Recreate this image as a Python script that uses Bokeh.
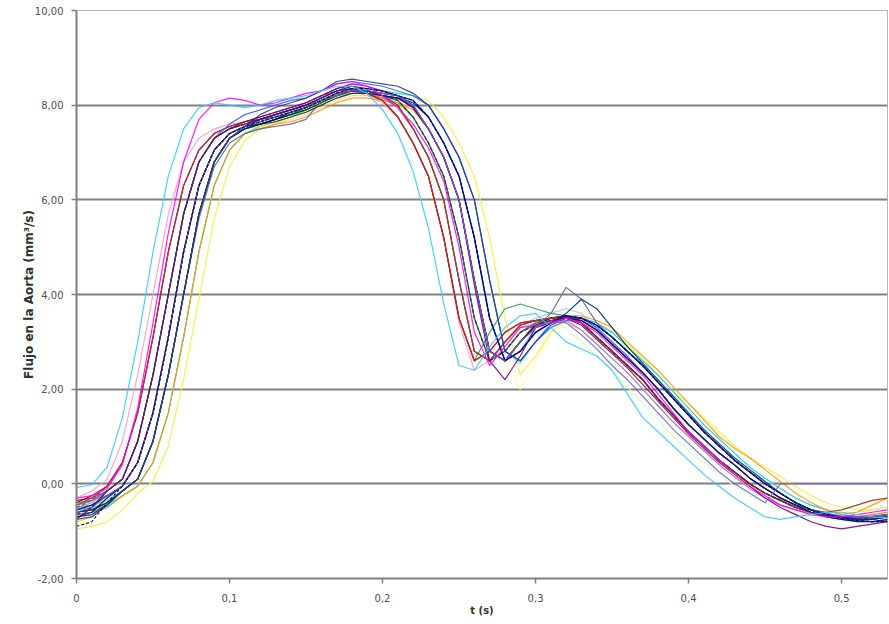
from bokeh.plotting import figure
from bokeh.models import Range1d, FixedTicker, CustomJSTickFormatter
from bokeh.embed import file_html
from bokeh.resources import INLINE

# time axis (s)
T = [0.00, 0.01, 0.02, 0.03, 0.04, 0.05, 0.06, 0.07, 0.08, 0.09,
     0.10, 0.11, 0.12, 0.13, 0.14, 0.15, 0.16, 0.17, 0.18, 0.19,
     0.20, 0.21, 0.22, 0.23, 0.24, 0.25, 0.26, 0.27, 0.28, 0.29,
     0.30, 0.31, 0.32, 0.33, 0.34, 0.35, 0.36, 0.37, 0.38, 0.39,
     0.40, 0.41, 0.42, 0.43, 0.44, 0.45, 0.46, 0.47, 0.48, 0.49,
     0.50, 0.51, 0.52, 0.53]

X_TICKS = [0.0, 0.1, 0.2, 0.3, 0.4, 0.5]
X_LABELS = ["0", "0,1", "0,2", "0,3", "0,4", "0,5"]
Y_TICKS = [-2, 0, 2, 4, 6, 8, 10]
Y_LABELS = ["-2,00", "0,00", "2,00", "4,00", "6,00", "8,00", "10,00"]
GRID_Y = [0, 2, 4, 6, 8]

# aortic flow curves (mm3/s), one per measurement
C01 = [-0.08, -0.02, 0.35, 1.4, 3.0, 4.9, 6.5, 7.5, 7.95, 8.05, 8.0, 7.95,
       8.0, 8.1, 8.15, 8.2, 8.3, 8.4, 8.4,
       8.25, 7.9, 7.4, 6.6, 5.4, 3.8, 2.5, 2.4, 2.9, 3.3, 3.55,
       3.6, 3.3, 3.0, 2.85, 2.7, 2.4, 1.9, 1.4, 1.1, 0.8, 0.5, 0.2, -0.05, -0.3, -0.5, -0.7, -0.75, -0.7, -0.65, -0.6, -0.6, -0.65, -0.7, -0.72]
C02 = [-0.3, -0.25, -0.1, 0.4, 1.6, 3.4, 5.3, 6.8, 7.7, 8.05, 8.15, 8.1,
       8.0, 8.05, 8.15, 8.25, 8.3, 8.45, 8.5,
       8.4, 8.2, 7.95, 7.6, 7.1, 6.4, 5.0, 3.2, 2.5, 2.9, 3.3,
       3.35, 3.4, 3.5, 3.4, 3.2, 2.9, 2.6, 2.3, 1.9, 1.5, 1.1, 0.8, 0.5, 0.2, -0.05, -0.25, -0.45, -0.55, -0.65, -0.7, -0.7, -0.65, -0.6, -0.55]
C03 = [-0.7, -0.6, -0.3, -0.05, 0.45, 1.5, 3.1, 4.9, 6.3, 7.05, 7.4, 7.55,
       7.6, 7.7, 7.85, 7.95, 8.1, 8.25, 8.3,
       8.3, 8.2, 8.15, 7.95, 7.5, 6.9, 6.0, 4.3, 2.8, 2.6, 3.0,
       3.35, 3.45, 3.5, 3.45, 3.25, 2.95, 2.65, 2.35, 2.0, 1.6, 1.25, 0.95, 0.65, 0.4, 0.12, -0.1, -0.3, -0.45, -0.6, -0.7, -0.75, -0.8, -0.8, -0.75]
C04 = [-0.95, -0.9, -0.8, -0.55, -0.2, 0.05, 0.8, 2.2, 3.9, 5.6, 6.7, 7.25, 7.5,
       7.6, 7.75, 7.9, 8.05, 8.2, 8.3,
       8.35, 8.3, 8.25, 8.2, 8.1, 7.75, 7.2, 6.5, 5.2, 3.5, 2.3, 2.7,
       3.2, 3.45, 3.5, 3.4, 3.2, 2.95, 2.65, 2.3, 1.95, 1.7, 1.4, 1.1, 0.8, 0.55, 0.35, 0.15, -0.05, -0.25, -0.4, -0.5, -0.55, -0.55, -0.5]
C05 = [-0.5, -0.45, -0.35, -0.15, 0.1, 0.9, 2.3, 4.0, 5.7, 6.8, 7.3, 7.5,
       7.65, 7.75, 7.85, 7.95, 8.1, 8.25, 8.35,
       8.35, 8.3, 8.25, 8.2, 8.0, 7.5, 6.9, 6.0, 4.3, 2.8, 2.55, 3.0,
       3.4, 3.55, 3.5, 3.35, 3.1, 2.8, 2.5, 2.15, 1.8, 1.45, 1.1, 0.8, 0.5, 0.25, 0.0, -0.2, -0.4, -0.55, -0.65, -0.7, -0.75, -0.75, -0.7]
C06 = [-0.75, -0.5, -0.15, 0.1, 0.9, 2.3, 4.0, 5.7, 6.8, 7.3, 7.5, 7.65,
       7.75, 7.85, 7.95, 8.05, 8.2, 8.35, 8.45,
       8.4, 8.3, 8.2, 7.95, 7.5, 6.9, 6.0, 4.2, 2.6, 2.2, 2.7,
       3.3, 3.4, 3.5, 3.35, 3.05, 2.75, 2.45, 2.1, 1.75, 1.4, 1.05, 0.75, 0.45, 0.2, -0.05, -0.3, -0.5, -0.65, -0.8, -0.9, -0.95, -0.9, -0.85, -0.8]
C07 = [-0.4, -0.25, -0.05, 0.45, 1.5, 3.1, 4.9, 6.3, 7.05, 7.4, 7.55, 7.65,
       7.7, 7.8, 7.9, 8.0, 8.15, 8.3, 8.35,
       8.25, 8.1, 7.75, 7.2, 6.5, 5.2, 3.5, 2.6, 2.8, 3.2, 3.4,
       3.45, 3.5, 3.55, 3.4, 3.1, 2.8, 2.5, 2.2, 1.8, 1.45, 1.1, 0.8, 0.5, 0.25, 0.0, -0.2, -0.35, -0.5, -0.6, -0.65, -0.7, -0.72, -0.7, -0.65]
C08 = [-0.6, -0.55, -0.4, -0.15, 0.1, 0.9, 2.3, 4.0, 5.7, 6.8, 7.3, 7.5,
       7.6, 7.7, 7.8, 7.95, 8.1, 8.2, 8.3,
       8.3, 8.2, 8.1, 7.75, 7.2, 6.5, 5.2, 3.5, 2.6, 2.8, 3.2,
       3.4, 3.5, 3.5, 3.45, 3.25, 2.95, 2.65, 2.35, 2.0, 1.6, 1.25, 0.95, 0.65, 0.4, 0.12, -0.1, -0.3, -0.45, -0.6, -0.7, -0.75, -0.78, -0.75, -0.7]
C09 = [-0.55, -0.45, -0.25, -0.05, 0.45, 1.5, 3.1, 4.9, 6.3, 7.05, 7.4, 7.55,
       7.7, 7.8, 7.9, 8.0, 8.15, 8.3, 8.4,
       8.35, 8.3, 8.2, 8.1, 7.75, 7.2, 6.5, 5.2, 3.5, 2.6, 2.8,
       3.2, 3.4, 3.55, 3.5, 3.35, 3.1, 2.8, 2.5, 2.15, 1.8, 1.45, 1.1, 0.8, 0.5, 0.25, 0.0, -0.2, -0.4, -0.55, -0.65, -0.7, -0.75, -0.75, -0.7]
C10 = [-0.65, -0.6, -0.5, -0.25, -0.05, 0.45, 1.5, 3.1, 4.9, 6.3, 7.05, 7.4,
       7.55, 7.65, 7.75, 7.9, 8.05, 8.2, 8.3,
       8.3, 8.25, 8.2, 8.0, 7.5, 6.9, 6.0, 4.3, 2.8, 2.6, 3.0,
       3.3, 3.45, 3.5, 3.5, 3.4, 3.2, 2.9, 2.6, 2.3, 1.95, 1.6, 1.25, 0.95, 0.65, 0.35, 0.12, -0.1, -0.3, -0.45, -0.55, -0.65, -0.7, -0.7, -0.65]
C11 = [-0.45, -0.4, -0.3, -0.15, 0.1, 0.9, 2.3, 4.0, 5.7, 6.8, 7.3, 7.5,
       7.6, 7.7, 7.8, 7.95, 8.1, 8.2, 8.25,
       8.25, 8.15, 8.05, 7.75, 7.2, 6.5, 5.2, 3.5, 2.6, 2.8, 3.2,
       3.4, 3.4, 3.3, 3.0, 2.7, 2.4, 2.05, 1.7, 1.35, 1.0, 0.7, 0.45, 0.2, -0.05, -0.25, -0.4, -0.55, -0.65, -0.7, -0.75, -0.78, -0.8, -0.8, -0.78]
C12 = [-0.85, -0.8, -0.7, -0.3, -0.05, 0.45, 1.5, 3.1, 4.9, 6.3, 7.05, 7.4,
       7.55, 7.65, 7.75, 7.9, 8.05, 8.2, 8.3,
       8.35, 8.3, 8.25, 8.2, 8.0, 7.5, 6.9, 6.0, 4.2, 2.6, 2.0,
       2.6, 3.2, 3.5, 3.5, 3.4, 3.2, 2.9, 2.6, 2.3, 1.95, 1.6, 1.25, 0.95, 0.65, 0.35, 0.1, -0.1, -0.3, -0.45, -0.55, -0.6, -0.65, -0.65, -0.6]
C13 = [-0.35, -0.3, -0.25, -0.05, 0.45, 1.5, 3.1, 4.9, 6.3, 7.05, 7.4, 7.55,
       7.7, 7.8, 7.95, 8.05, 8.2, 8.35, 8.4,
       8.3, 8.2, 8.0, 7.5, 6.9, 6.0, 4.3, 2.8, 2.6, 3.0, 3.35,
       3.5, 3.6, 3.7, 3.6, 3.3, 3.0, 2.7, 2.35, 2.0, 1.6, 1.25, 0.95, 0.65, 0.4, 0.12, -0.1, -0.3, -0.45, -0.55, -0.65, -0.7, -0.72, -0.7, -0.65]
C14 = [-0.3, -0.15, 0.1, 0.9, 2.3, 4.0, 5.7, 6.8, 7.3, 7.5, 7.6, 7.65,
       7.7, 7.8, 7.9, 8.0, 8.1, 8.25, 8.3,
       8.2, 8.05, 7.75, 7.2, 6.5, 5.2, 3.4, 2.4, 2.6, 3.0, 3.3,
       3.4, 3.45, 3.4, 3.25, 2.95, 2.65, 2.35, 2.0, 1.65, 1.3, 1.0, 0.7, 0.4, 0.15, -0.1, -0.3, -0.45, -0.55, -0.6, -0.65, -0.68, -0.7, -0.7, -0.68]
C15 = [-0.6, -0.5, -0.15, 0.1, 0.9, 2.3, 4.0, 5.7, 6.8, 7.3, 7.5, 7.6,
       7.65, 7.75, 7.85, 8.0, 8.1, 8.25, 8.3,
       8.3, 8.2, 8.1, 7.75, 7.2, 6.5, 5.2, 3.5, 2.6, 2.8, 3.2,
       3.35, 3.45, 3.5, 3.4, 3.1, 2.8, 2.5, 2.2, 1.8, 1.45, 1.1, 0.8, 0.5, 0.25, 0.0, -0.2, -0.35, -0.5, -0.6, -0.65, -0.7, -0.72, -0.7, -0.65]
C16 = [-0.7, -0.65, -0.5, -0.25, -0.05, 0.45, 1.5, 3.1, 4.9, 6.3, 7.05, 7.4,
       7.5, 7.6, 7.7, 7.8, 7.95, 8.1, 8.2,
       8.2, 8.15, 8.1, 7.9, 7.5, 6.9, 6.0, 4.3, 2.8, 2.6, 3.0,
       3.3, 3.4, 3.45, 3.4, 3.25, 2.95, 2.65, 2.35, 2.0, 1.6, 1.25, 0.95, 0.65, 0.4, 0.12, -0.1, -0.3, -0.45, -0.55, -0.6, -0.62, -0.6, -0.55, -0.5]
C17 = [-0.45, -0.35, -0.15, 0.1, 0.9, 2.3, 4.0, 5.7, 6.8, 7.3, 7.6, 7.8,
       7.9, 8.0, 8.1, 8.15, 8.3, 8.45, 8.5,
       8.45, 8.4, 8.3, 8.2, 8.0, 7.5, 6.9, 6.0, 4.3, 2.8, 2.6,
       3.0, 3.3, 3.45, 3.5, 3.3, 3.0, 2.7, 2.35, 2.0, 1.6, 1.25, 0.95, 0.65, 0.4, 0.12, -0.1, -0.3, -0.45, -0.55, -0.62, -0.68, -0.7, -0.68, -0.65]
C18 = [-0.55, -0.5, -0.4, -0.15, 0.1, 0.9, 2.3, 4.0, 5.7, 6.8, 7.3, 7.5,
       7.6, 7.7, 7.8, 7.95, 8.1, 8.2, 8.3,
       8.3, 8.25, 8.2, 8.05, 7.75, 7.2, 6.5, 5.2, 3.5, 2.6, 2.8,
       3.3, 3.5, 3.55, 3.4, 3.1, 2.8, 2.5, 2.2, 1.8, 1.45, 1.1, 0.8, 0.5, 0.25, 0.0, -0.2, -0.35, -0.5, -0.6, -0.65, -0.7, -0.72, -0.7, -0.65]
C19 = [-0.5, -0.45, -0.25, -0.05, 0.45, 1.5, 3.1, 4.9, 6.3, 7.05, 7.4, 7.55,
       7.6, 7.7, 7.8, 7.9, 8.05, 8.2, 8.25,
       8.25, 8.15, 8.05, 7.75, 7.2, 6.5, 5.2, 3.5, 2.6, 2.8, 3.2,
       3.4, 3.5, 3.5, 3.45, 3.25, 2.95, 2.65, 2.35, 2.0, 1.6, 1.25, 0.95, 0.65, 0.4, 0.12, -0.1, -0.3, -0.45, -0.6, -0.68, -0.72, -0.75, -0.72, -0.68]
C20 = [-0.8, -0.7, -0.45, -0.15, 0.1, 0.9, 2.3, 4.0, 5.7, 6.8, 7.3, 7.5,
       7.55, 7.65, 7.75, 7.85, 8.0, 8.15, 8.25,
       8.25, 8.2, 8.15, 7.95, 7.5, 6.9, 6.0, 4.3, 2.8, 2.6, 3.0,
       3.3, 3.45, 3.5, 3.5, 3.35, 3.1, 2.8, 2.5, 2.15, 1.8, 1.45, 1.1, 0.8, 0.5, 0.25, 0.0, -0.2, -0.4, -0.55, -0.65, -0.7, -0.72, -0.7, -0.65]
C21 = [-0.6, -0.55, -0.45, -0.25, -0.05, 0.45, 1.5, 3.1, 4.9, 6.3, 7.05, 7.4,
       7.5, 7.6, 7.65, 7.75, 7.9, 8.05, 8.15,
       8.15, 8.1, 8.05, 7.9, 7.5, 6.9, 6.0, 4.3, 2.8, 2.6, 3.0,
       3.4, 3.45, 3.55, 3.55, 3.45, 3.3, 3.0, 2.7, 2.4, 2.05, 1.7, 1.35, 1.0, 0.75, 0.55, 0.3, 0.05, -0.2, -0.4, -0.55, -0.65, -0.6, -0.45, -0.3]
C22 = [-0.4, -0.35, -0.25, -0.05, 0.45, 1.5, 3.1, 4.9, 6.3, 7.05, 7.4, 7.55,
       7.65, 7.75, 7.85, 7.95, 8.1, 8.2, 8.3,
       8.25, 8.15, 7.95, 7.5, 6.9, 6.0, 4.3, 2.8, 2.6, 3.0, 3.35,
       3.45, 3.5, 3.55, 3.4, 3.1, 2.8, 2.5, 2.2, 1.8, 1.45, 1.1, 0.8, 0.5, 0.25, 0.0, -0.2, -0.35, -0.5, -0.6, -0.65, -0.7, -0.7, -0.65, -0.6]
C23 = [-0.65, -0.6, -0.45, -0.15, 0.1, 0.9, 2.3, 4.0, 5.6, 6.7, 7.2, 7.4,
       7.5, 7.55, 7.6, 7.7, 8.1, 8.2, 8.3,
       8.3, 8.2, 8.15, 7.95, 7.5, 6.9, 6.0, 4.3, 2.8, 2.6, 3.0,
       3.3, 3.6, 4.15, 3.9, 3.4, 3.1, 2.8, 2.5, 2.15, 1.8, 1.45, 1.1, 0.8, 0.5, 0.25, 0.0, -0.2, -0.4, -0.55, -0.65, -0.7, -0.75, -0.75, -0.7]
C24 = [-0.5, -0.4, -0.15, 0.1, 0.9, 2.3, 4.0, 5.7, 6.8, 7.3, 7.5, 7.6,
       7.7, 7.8, 7.9, 8.0, 8.1, 8.25, 8.3,
       8.25, 8.15, 7.95, 7.5, 6.9, 6.0, 4.3, 2.8, 2.6, 3.0, 3.35,
       3.45, 3.5, 3.45, 3.25, 2.95, 2.65, 2.35, 2.0, 1.65, 1.3, 1.0, 0.7, 0.4, 0.15, -0.1, -0.3, -0.45, -0.55, -0.62, -0.68, -0.7, -0.72, -0.7, -0.68]
C25 = [-0.7, -0.65, -0.45, -0.15, 0.1, 0.9, 2.3, 4.0, 5.7, 6.8, 7.3, 7.5,
       7.6, 7.65, 7.75, 7.85, 8.0, 8.15, 8.25,
       8.25, 8.2, 8.15, 8.05, 7.75, 7.2, 6.5, 5.2, 3.5, 2.6, 2.8,
       3.2, 3.4, 3.6, 3.9, 3.7, 3.3, 2.9, 2.55, 2.2, 1.85, 1.5, 1.15, 0.85, 0.55, 0.3, 0.05, -0.2, -0.4, -0.55, -0.65, -0.72, -0.78, -0.8, -0.78]
C26 = [-0.55, -0.45, -0.25, -0.05, 0.45, 1.5, 3.1, 4.9, 6.3, 7.05, 7.4, 7.55,
       7.65, 7.75, 7.85, 7.95, 8.1, 8.2, 8.3,
       8.25, 8.1, 7.75, 7.2, 6.5, 5.2, 3.5, 2.6, 3.2, 3.7, 3.8,
       3.7, 3.6, 3.55, 3.4, 3.1, 2.8, 2.5, 2.2, 1.8, 1.45, 1.1, 0.8, 0.5, 0.25, 0.0, -0.2, -0.35, -0.5, -0.6, -0.65, -0.7, -0.72, -0.7, -0.65]
C27 = [-0.6, -0.55, -0.4, -0.15, 0.1, 0.9, 2.3, 4.0, 5.7, 6.8, 7.3, 7.5,
       7.6, 7.7, 7.8, 7.9, 8.05, 8.2, 8.3,
       8.3, 8.25, 8.2, 8.0, 7.5, 6.9, 6.0, 4.3, 2.8, 2.6, 3.0,
       3.35, 3.5, 3.55, 3.5, 3.35, 3.1, 2.8, 2.5, 2.15, 1.8, 1.45, 1.1, 0.8, 0.5, 0.25, 0.0, -0.2, -0.4, -0.55, -0.65, -0.7, -0.75, -0.75, -0.7]
C28 = [-0.35, -0.3, -0.15, 0.1, 0.9, 2.3, 4.0, 5.7, 6.8, 7.3, 7.5, 7.6,
       7.7, 7.75, 7.85, 7.95, 8.1, 8.25, 8.3,
       8.3, 8.2, 8.0, 7.5, 6.9, 6.0, 4.3, 2.8, 2.6, 3.0, 3.35,
       3.45, 3.5, 3.55, 3.45, 3.25, 2.95, 2.65, 2.35, 2.0, 1.6, 1.25, 0.95, 0.65, 0.4, 0.12, -0.1, -0.3, -0.45, -0.55, -0.6, -0.55, -0.45, -0.35, -0.3]
C29 = [-0.5, -0.35, -0.05, 0.45, 1.5, 3.1, 4.9, 6.3, 7.05, 7.4, 7.55, 7.65,
       7.75, 7.85, 7.95, 8.05, 8.2, 8.35, 8.4,
       8.3, 8.2, 8.0, 7.5, 6.9, 6.0, 4.3, 2.8, 2.6, 3.0, 3.35,
       3.45, 3.5, 3.55, 3.4, 3.1, 2.8, 2.5, 2.2, 1.8, 1.45, 1.1, 0.8, 0.5, 0.25, 0.0, -0.2, -0.35, -0.5, -0.6, -0.65, -0.7, -0.72, -0.7, -0.65]
C30 = [-0.75, -0.7, -0.45, -0.15, 0.1, 0.9, 2.3, 4.0, 5.7, 6.8, 7.3, 7.55,
       7.8, 7.95, 8.05, 8.15, 8.3, 8.5, 8.55,
       8.5, 8.45, 8.4, 8.25, 8.0, 7.5, 6.9, 6.0, 4.3, 2.8, 2.6,
       3.0, 3.35, 3.5, 3.5, 3.35, 3.1, 2.8, 2.5, 2.15, 1.8, 1.45, 1.1, 0.8, 0.5, 0.25, 0.0, -0.2, -0.4, -0.55, -0.65, -0.72, -0.78, -0.8, -0.8]
C31 = [-0.65, -0.5, -0.15, 0.1, 0.9, 2.3, 4.0, 5.7, 6.8, 7.3, 7.5, 7.6,
       7.7, 7.8, 7.9, 8.0, 8.15, 8.3, 8.35,
       8.3, 8.2, 8.1, 7.75, 7.2, 6.5, 5.2, 3.5, 2.6, 2.8, 3.2,
       3.35, 3.45, 3.5, 3.4, 3.1, 2.8, 2.5, 2.2, 1.8, 1.45, 1.1, 0.8, 0.5, 0.25, 0.0, -0.2, -0.35, -0.5, -0.6, -0.68, -0.72, -0.75, -0.72, -0.7]
C32 = [-0.6, -0.5, -0.25, -0.05, 0.45, 1.5, 3.1, 4.9, 6.3, 7.05, 7.4, 7.55,
       7.65, 7.75, 7.85, 7.95, 8.1, 8.25, 8.3,
       8.3, 8.25, 8.2, 8.0, 7.5, 6.9, 6.0, 4.3, 2.8, 2.6, 3.0,
       3.3, 3.45, 3.4, 3.15, 2.85, 2.5, 2.2, 1.85, 1.5, 1.15, 0.85, 0.55, 0.25, 0.0, -0.2, -0.4, 0.0, 0.0, 0.0, 0.0, 0.0, 0.0, 0.0, 0.0]
C33 = [-0.45, -0.3, -0.05, 0.45, 1.5, 3.1, 4.9, 6.3, 7.05, 7.4, 7.55, 7.65,
       7.75, 7.85, 7.95, 8.05, 8.2, 8.3, 8.35,
       8.25, 8.1, 7.75, 7.2, 6.5, 5.2, 3.5, 2.6, 2.8, 3.2, 3.4,
       3.45, 3.5, 3.5, 3.4, 3.1, 2.8, 2.5, 2.2, 1.8, 1.45, 1.1, 0.8, 0.5, 0.25, 0.0, -0.2, -0.35, -0.5, -0.6, -0.65, -0.7, -0.72, -0.7, -0.65]
C34 = [-0.9, -0.8, -0.4, -0.05, 0.45, 1.5, 3.1, 4.9, 6.3, 7.05, 7.4, 7.55,
       7.65, 7.75, 7.85, 7.95, 8.1, 8.25, 8.35,
       8.35, 8.3, 8.2, 8.1, 7.75, 7.2, 6.5, 5.2, 3.5, 2.6, 2.8,
       3.2, 3.4, 3.55, 3.5, 3.35, 3.1, 2.8, 2.5, 2.15, 1.8, 1.45, 1.1, 0.8, 0.5, 0.25, 0.0, -0.2, -0.4, -0.55, -0.65, -0.72, -0.78, -0.8, -0.8]

SERIES = [
    ("C11", C11, "#CCFFCC", "solid"), ("C12", C12, "#FFFF99", "solid"),
    ("C16", C16, "#FFCC99", "solid"), ("C13", C13, "#99CCFF", "solid"),
    ("C15", C15, "#CC99FF", "solid"), ("C14", C14, "#FF99CC", "solid"),
    ("C04", C04, "#F5F03A", "solid"), ("C05", C05, "#22E6E6", "solid"),
    ("C10", C10, "#00CCFF", "solid"), ("C18", C18, "#33CCCC", "solid"),
    ("C19", C19, "#99CC00", "solid"), ("C20", C20, "#FFCC00", "solid"),
    ("C21", C21, "#FF9900", "solid"), ("C22", C22, "#FF6600", "solid"),
    ("C24", C24, "#969696", "solid"), ("C08", C08, "#008080", "solid"),
    ("C26", C26, "#339966", "solid"), ("C27", C27, "#003300", "solid"),
    ("C28", C28, "#993300", "solid"), ("C07", C07, "#800000", "solid"),
    ("C33", C33, "#DD2020", "solid"), ("C29", C29, "#993366", "4 2"),
    ("C23", C23, "#666699", "solid"), ("C25", C25, "#003366", "solid"),
    ("C17", C17, "#3366FF", "solid"), ("C09", C09, "#0000FF", "solid"),
    ("C03", C03, "#000080", "solid"), ("C30", C30, "#333399", "solid"),
    ("C06", C06, "#800080", "solid"), ("C32", C32, "#7F60D8", "solid"),
    ("C31", C31, "#333333", "4 2"), ("C34", C34, "#000066", "3 2"),
    ("C02", C02, "#FF00FF", "solid"), ("C01", C01, "#33CCFF", "solid"),
]

for name, vals, _, _ in SERIES:
    assert len(vals) == len(T), (name, len(vals))

p = figure(width=889, height=624, output_backend="svg", toolbar_location=None,
           x_range=Range1d(0, 0.53), y_range=Range1d(-2, 10),
           min_border_left=76, min_border_right=2, min_border_top=10,
           min_border_bottom=46)
p.background_fill_color = "white"
p.border_fill_color = "white"
p.outline_line_color = "#b8b8b8"
p.outline_line_width = 1

for name, vals, color, dash in SERIES:
    p.line(T, vals, line_color=color, line_width=1.2, line_alpha=0.9,
           line_dash=dash, line_join="round")

fmt_code = """
const i = tv.findIndex(t => Math.abs(t - tick) < 1e-9);
return i >= 0 ? tl[i] : "";
"""
p.xaxis.ticker = FixedTicker(ticks=X_TICKS)
p.xaxis.formatter = CustomJSTickFormatter(args=dict(tv=X_TICKS, tl=X_LABELS), code=fmt_code)
p.yaxis.ticker = FixedTicker(ticks=Y_TICKS)
p.yaxis.formatter = CustomJSTickFormatter(args=dict(tv=Y_TICKS, tl=Y_LABELS), code=fmt_code)

p.xgrid.visible = False
p.ygrid.ticker = FixedTicker(ticks=GRID_Y)
p.ygrid.grid_line_color = "#808080"
p.ygrid.grid_line_width = 2

for ax in (p.xaxis[0], p.yaxis[0]):
    ax.axis_line_color = "#808080"
    ax.axis_line_width = 2
    ax.major_tick_line_color = "#808080"
    ax.major_tick_line_width = 1.5
    ax.major_tick_in = 0
    ax.major_tick_out = 5
    ax.minor_tick_line_color = None
    ax.major_label_text_font = "DejaVu Sans"
    ax.major_label_text_font_size = "10px"
    ax.major_label_text_color = "#505050"
    ax.axis_label_text_font = "DejaVu Sans"
    ax.axis_label_text_font_style = "bold"
    ax.axis_label_text_color = "#303030"

p.xaxis.axis_label = "t (s)"
p.xaxis.axis_label_text_font_size = "10px"
p.xaxis.major_label_standoff = 10
p.xaxis.axis_label_standoff = 0

p.yaxis.axis_label = "Flujo en la Aorta (mm³/s)"
p.yaxis.axis_label_text_font_size = "12px"
p.yaxis.major_label_standoff = 8
p.yaxis.axis_label_standoff = -4

open("out.html", "w").write(file_html(p, INLINE))
